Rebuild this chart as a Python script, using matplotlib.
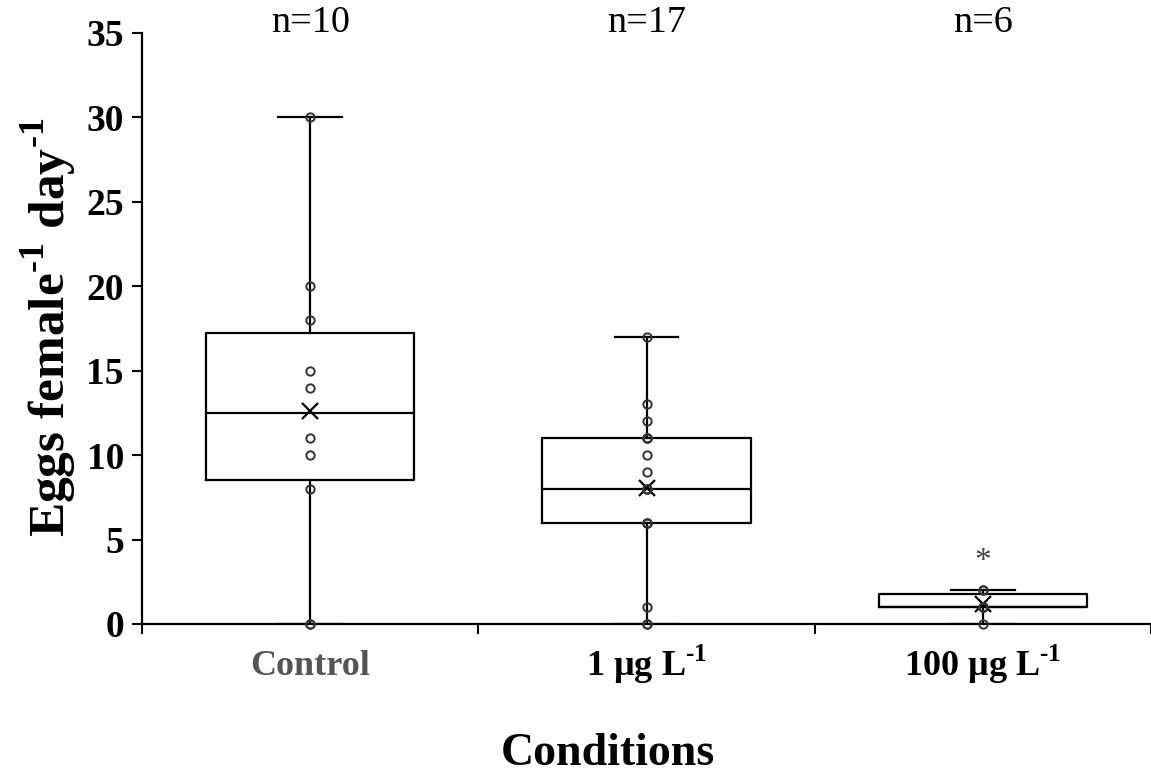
import matplotlib
matplotlib.use('Agg')

import matplotlib.pyplot as plt
import numpy as np

# datos
conditions = ['Control', r'1 µg L$^{\text{-1}}$', r'100 µg L$^{\text{-1}}$']
control = [0, 0, 8, 10, 11, 14, 15, 18, 20, 30]
dose_1 = [0, 0, 1, 6, 6, 6, 8, 8, 8, 9, 10, 11, 11, 11, 12, 13, 17]
dose_100 = [0, 1, 1, 1, 2, 2]
n_labels = ['n=10', 'n=17', 'n=6']
label_colors = ['#555555', 'black', 'black']
star_value = 3.7

plt.rcParams['font.family'] = ['Liberation Serif', 'DejaVu Serif']
plt.rcParams['mathtext.fontset'] = 'custom'
plt.rcParams['mathtext.rm'] = 'Liberation Serif:bold'
plt.rcParams['mathtext.bf'] = 'Liberation Serif:bold'

groups = [control, dose_1, dose_100]
pos = np.arange(1, len(groups) + 1)

fig = plt.figure(figsize=(11.51, 7.74), dpi=100)
ax = fig.add_axes([0.1234, 0.1938, 0.8766, 0.7636])

line_kw = dict(color='black', linewidth=1.6)
ax.boxplot(groups, positions=pos, widths=0.62, whis=(0, 100), showfliers=False,
           showmeans=True, capwidths=0.19,
           boxprops=line_kw, whiskerprops=line_kw, capprops=line_kw,
           medianprops=line_kw,
           meanprops=dict(marker='x', markeredgecolor='black', markersize=12,
                          markeredgewidth=1.6))

# puntos interiores
for p, vals in zip(pos, groups):
    ax.plot([p] * len(vals), vals, 'o', mfc='none', mec='#333333', ms=6,
            mew=1.4, zorder=4, clip_on=False)

ax.text(pos[2], star_value, '*', ha='center', va='center', fontsize=24,
        color='#444444')

for p, t in zip(pos, n_labels):
    ax.text(p, 35.6, t, ha='center', va='center', fontsize=27.5, clip_on=False)

ax.set_xlim(0.5, 3.5)
ax.set_ylim(0, 35)
ax.set_yticks(np.arange(0, 36, 5))
ax.set_xticks(pos)
ax.set_xticklabels(conditions, fontsize=26, fontweight='bold', va='baseline')
for lab, c in zip(ax.get_xticklabels(), label_colors):
    lab.set_color(c)
ax.set_xticks([0.5, 1.5, 2.5, 3.5], minor=True)
ax.tick_params(axis='x', which='major', length=0, pad=37)
ax.tick_params(axis='x', which='minor', length=7, width=1.5, direction='out')
ax.tick_params(axis='y', length=7, width=1.5, direction='out', pad=6,
               labelsize=27)
for lab in ax.get_yticklabels():
    lab.set_fontweight('bold')

for s in ['top', 'right']:
    ax.spines[s].set_visible(False)
for s in ['left', 'bottom']:
    ax.spines[s].set_linewidth(1.6)

ax.set_ylabel(r'Eggs female$^{\text{-1}}$ day$^{\text{-1}}$', fontsize=37,
              fontweight='bold')
ax.yaxis.set_label_coords(-0.062, 0.502)

fig.text(0.528, 0.012, 'Conditions', ha='center', va='baseline', fontsize=33,
         fontweight='bold')

plt.savefig('out.png', dpi=100)
